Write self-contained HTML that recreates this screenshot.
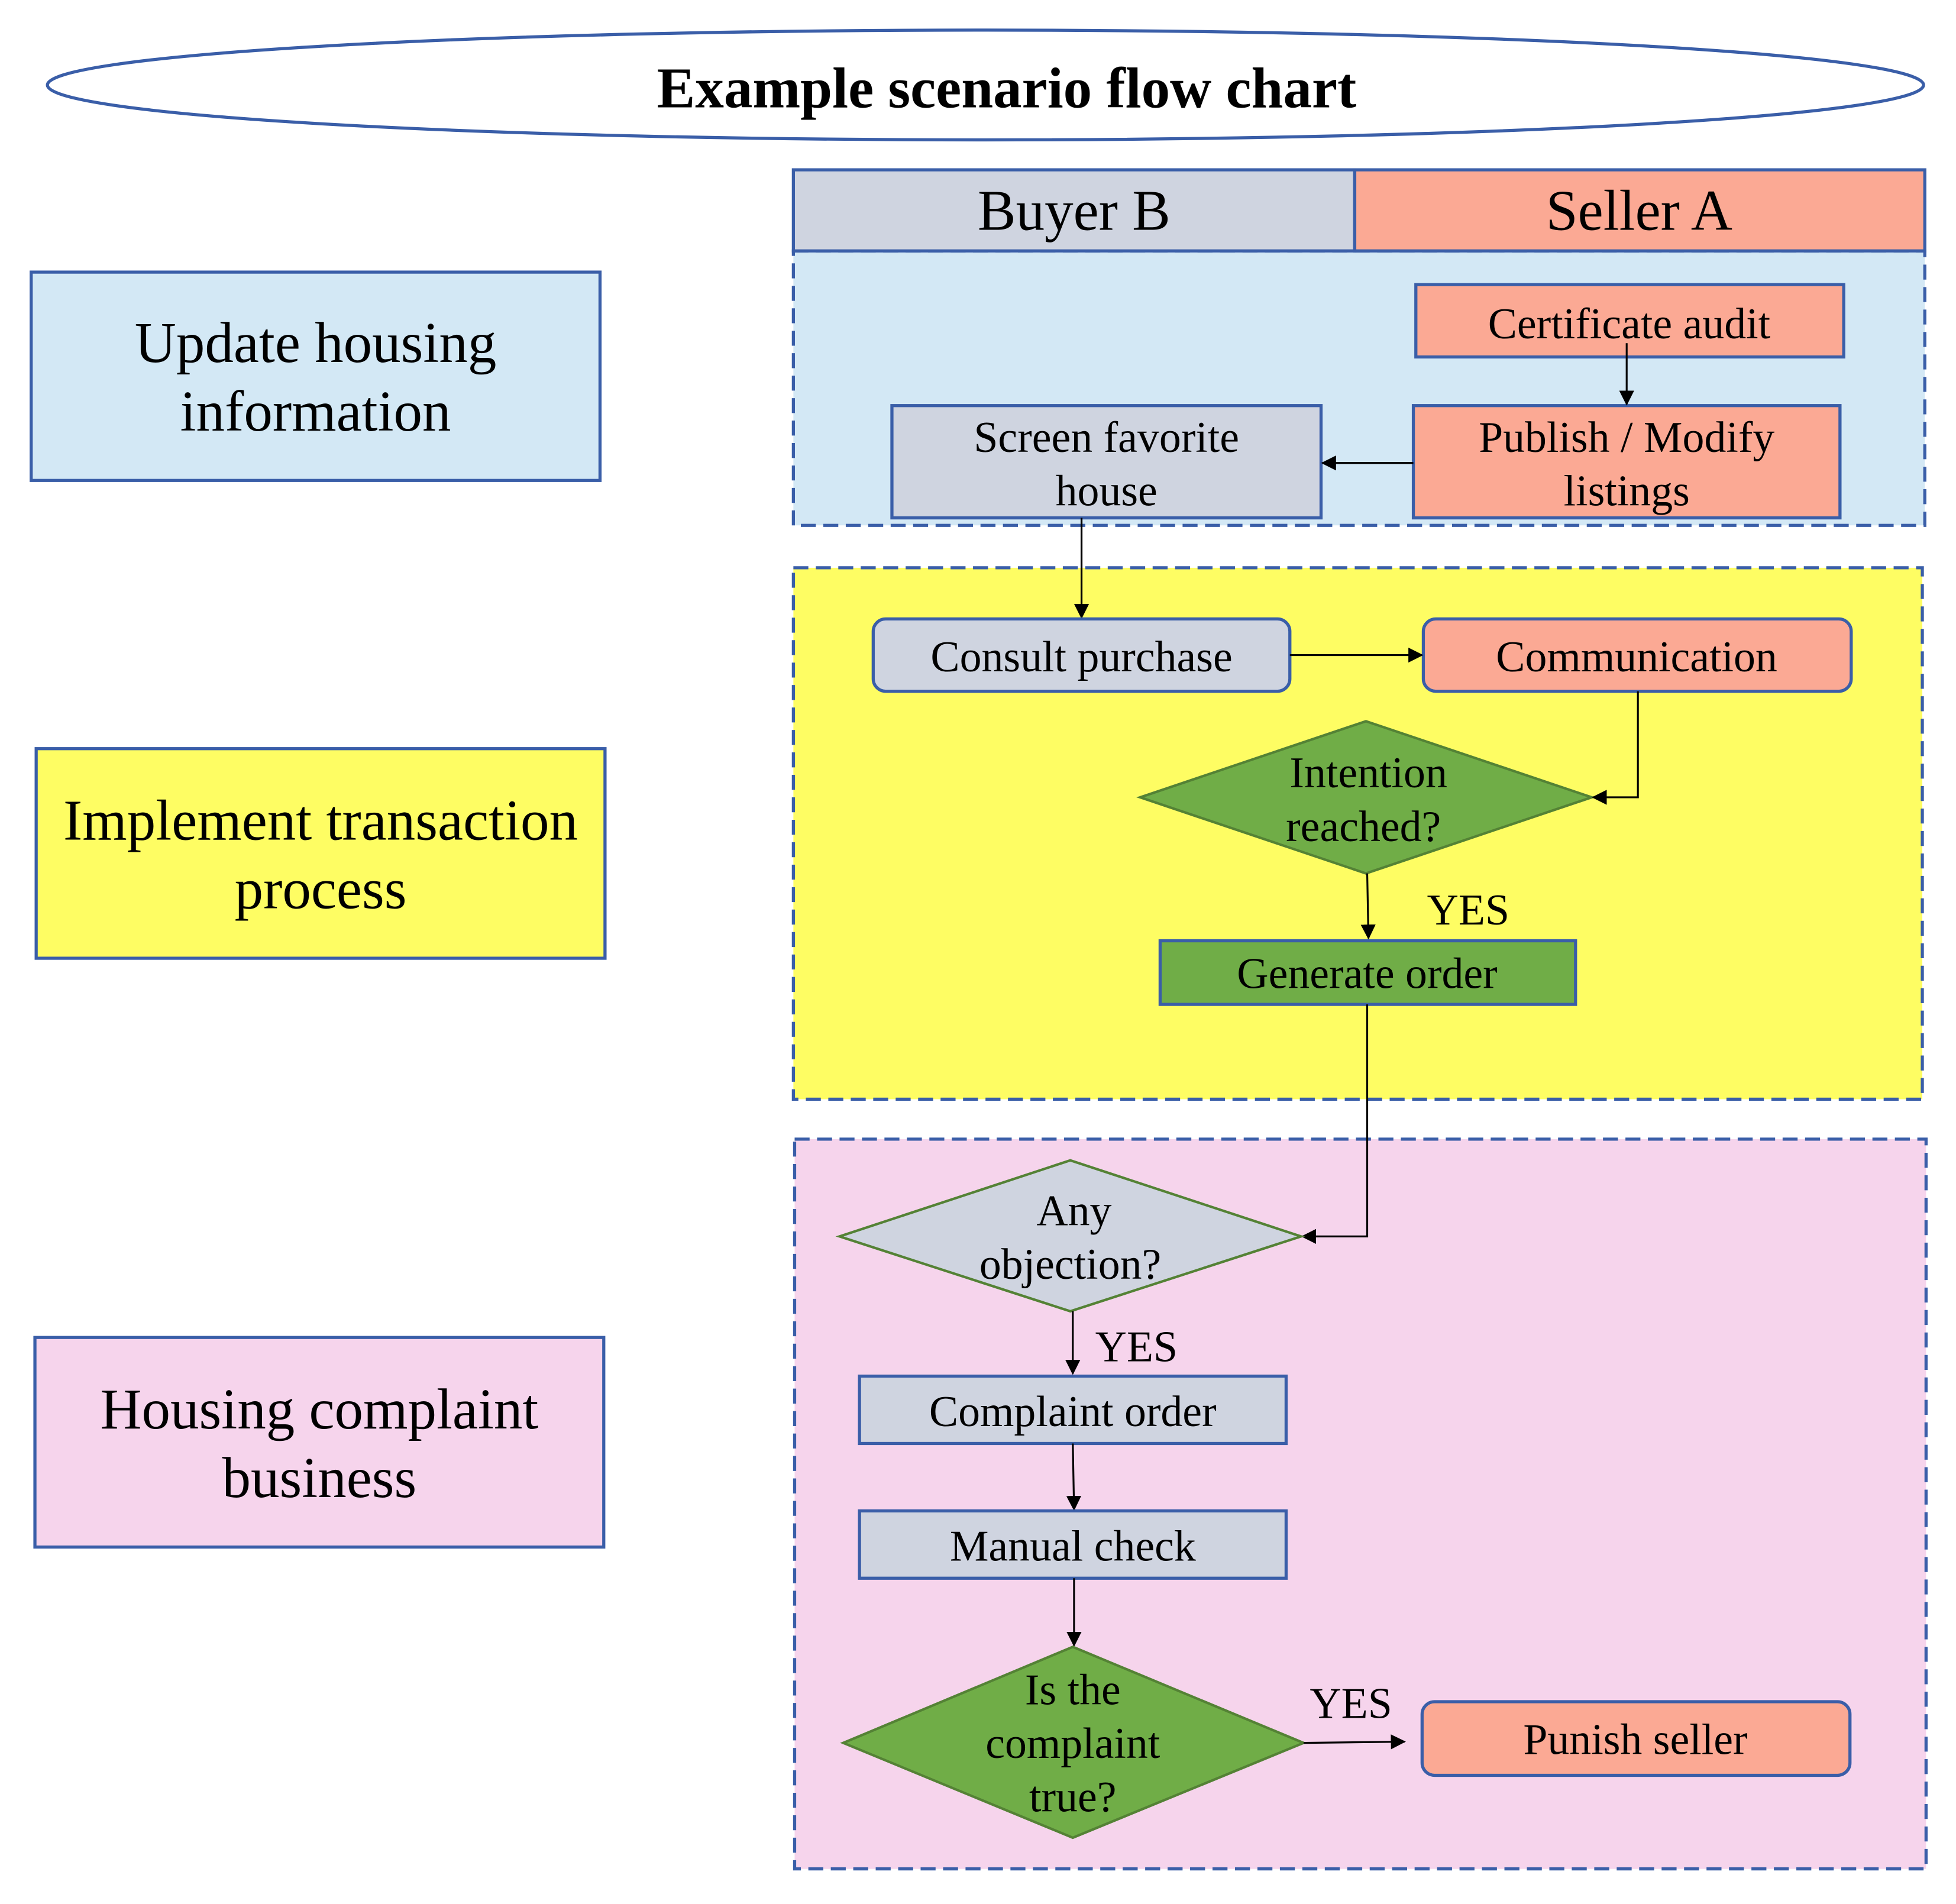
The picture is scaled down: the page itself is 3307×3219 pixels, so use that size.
<!DOCTYPE html>
<html><head><meta charset="utf-8"><style>html,body{margin:0;padding:0;background:#fff}svg{display:block}</style></head>
<body>
<svg width="3307" height="3219" viewBox="0 0 1568 1526" xmlns="http://www.w3.org/2000/svg" font-family="'Liberation Serif', serif">
<defs><marker id="a" markerWidth="12" markerHeight="12" refX="11" refY="6" orient="auto" markerUnits="userSpaceOnUse"><path d="M0,0 L12,6 L0,12 z" fill="#000"/></marker></defs>
<rect width="1568" height="1526" fill="#fff"/>
<ellipse cx="790" cy="68" rx="752" ry="44" fill="#fff" stroke="#3a5ea8" stroke-width="2.5"/>
<text x="807" y="86" font-size="46" font-weight="bold" text-anchor="middle">Example scenario flow chart</text>
<rect x="636" y="201" width="907" height="220" fill="#d3e8f5" stroke="#3a5ea8" stroke-width="2.5" stroke-dasharray="12,6"/>
<rect x="636" y="455" width="905" height="426" fill="#fefd63" stroke="#3a5ea8" stroke-width="2.5" stroke-dasharray="12,6"/>
<rect x="637" y="913" width="907" height="585" fill="#f6d4ec" stroke="#3a5ea8" stroke-width="2.5" stroke-dasharray="12,6"/>
<rect x="636" y="136" width="450" height="65" fill="#cfd4e0" stroke="#3a5ea8" stroke-width="2.5"/>
<rect x="1086" y="136" width="457" height="65" fill="#fba994" stroke="#3a5ea8" stroke-width="2.5"/>
<text x="861" y="184" font-size="46" text-anchor="middle">Buyer B</text>
<text x="1314" y="184" font-size="46" text-anchor="middle">Seller A</text>
<rect x="25" y="218" width="456" height="167" fill="#d3e8f5" stroke="#3a5ea8" stroke-width="2.5"/>
<text font-size="46" text-anchor="middle"><tspan x="253" y="290">Update housing</tspan><tspan x="253" y="345">information</tspan></text>
<rect x="29" y="600" width="456" height="168" fill="#fefd63" stroke="#3a5ea8" stroke-width="2.5"/>
<text font-size="46" text-anchor="middle"><tspan x="257" y="673">Implement transaction</tspan><tspan x="257" y="728">process</tspan></text>
<rect x="28" y="1072" width="456" height="168" fill="#f6d4ec" stroke="#3a5ea8" stroke-width="2.5"/>
<text font-size="46" text-anchor="middle"><tspan x="256" y="1145">Housing complaint</tspan><tspan x="256" y="1200">business</tspan></text>
<rect x="1135" y="228" width="343" height="58" fill="#fba994" stroke="#3a5ea8" stroke-width="2.5"/>
<text x="1306" y="271" font-size="35" text-anchor="middle">Certificate audit</text>
<rect x="1133" y="325" width="342" height="90" fill="#fba994" stroke="#3a5ea8" stroke-width="2.5"/>
<text font-size="35" text-anchor="middle"><tspan x="1304" y="362">Publish / Modify</tspan><tspan x="1304" y="405">listings</tspan></text>
<rect x="715" y="325" width="344" height="90" fill="#cfd4e0" stroke="#3a5ea8" stroke-width="2.5"/>
<text font-size="35" text-anchor="middle"><tspan x="887" y="362">Screen favorite</tspan><tspan x="887" y="405">house</tspan></text>
<line x1="1304" y1="275" x2="1304" y2="324" stroke="#000" stroke-width="1.5" marker-end="url(#a)"/>
<line x1="1133" y1="371" x2="1060" y2="371" stroke="#000" stroke-width="1.5" marker-end="url(#a)"/>
<line x1="867" y1="415" x2="867" y2="495" stroke="#000" stroke-width="1.5" marker-end="url(#a)"/>
<rect x="700" y="496" width="334" height="58" rx="10" fill="#cfd4e0" stroke="#3a5ea8" stroke-width="2.5"/>
<text x="867" y="538" font-size="35" text-anchor="middle">Consult purchase</text>
<rect x="1141" y="496" width="343" height="58" rx="10" fill="#fba994" stroke="#3a5ea8" stroke-width="2.5"/>
<text x="1312" y="538" font-size="35" text-anchor="middle">Communication</text>
<line x1="1034" y1="525" x2="1140" y2="525" stroke="#000" stroke-width="1.5" marker-end="url(#a)"/>
<polygon points="1095,578 1276,639 1095,700 914,639" fill="#70ad47" stroke="#548235" stroke-width="2"/>
<text font-size="35" text-anchor="middle"><tspan x="1097" y="631">Intention</tspan><tspan x="1093" y="674">reached?</tspan></text>
<polyline points="1313,554 1313,639 1277,639" fill="none" stroke="#000" stroke-width="1.5" marker-end="url(#a)"/>
<line x1="1096" y1="700" x2="1097" y2="752" stroke="#000" stroke-width="1.5" marker-end="url(#a)"/>
<text x="1177" y="741" font-size="35" text-anchor="middle">YES</text>
<rect x="930" y="754" width="333" height="51" fill="#70ad47" stroke="#3a5ea8" stroke-width="2.5"/>
<text x="1096" y="792" font-size="35" text-anchor="middle">Generate order</text>
<polyline points="1096,805 1096,991 1044,991" fill="none" stroke="#000" stroke-width="1.5" marker-end="url(#a)"/>
<polygon points="858,930 1043,991 858,1051 673,991" fill="#cfd4e0" stroke="#548235" stroke-width="2"/>
<text font-size="35" text-anchor="middle"><tspan x="861" y="982">Any</tspan><tspan x="858" y="1025">objection?</tspan></text>
<line x1="860" y1="1051" x2="860" y2="1101" stroke="#000" stroke-width="1.5" marker-end="url(#a)"/>
<text x="911" y="1091" font-size="35" text-anchor="middle">YES</text>
<rect x="689" y="1103" width="342" height="54" fill="#cfd4e0" stroke="#3a5ea8" stroke-width="2.5"/>
<text x="860" y="1143" font-size="35" text-anchor="middle">Complaint order</text>
<line x1="860" y1="1157" x2="861" y2="1210" stroke="#000" stroke-width="1.5" marker-end="url(#a)"/>
<rect x="689" y="1211" width="342" height="54" fill="#cfd4e0" stroke="#3a5ea8" stroke-width="2.5"/>
<text x="860" y="1251" font-size="35" text-anchor="middle">Manual check</text>
<line x1="861" y1="1265" x2="861" y2="1319" stroke="#000" stroke-width="1.5" marker-end="url(#a)"/>
<polygon points="860,1320 1045,1397 860,1473 676,1397" fill="#70ad47" stroke="#548235" stroke-width="2"/>
<text font-size="35" text-anchor="middle"><tspan x="860" y="1366">Is the</tspan><tspan x="860" y="1409">complaint</tspan><tspan x="860" y="1452">true?</tspan></text>
<line x1="1045" y1="1397" x2="1126" y2="1396" stroke="#000" stroke-width="1.5" marker-end="url(#a)"/>
<text x="1083" y="1377" font-size="35" text-anchor="middle">YES</text>
<rect x="1140" y="1364" width="343" height="59" rx="10" fill="#fba994" stroke="#3a5ea8" stroke-width="2.5"/>
<text x="1311" y="1406" font-size="35" text-anchor="middle">Punish seller</text>
</svg>
</body></html>
